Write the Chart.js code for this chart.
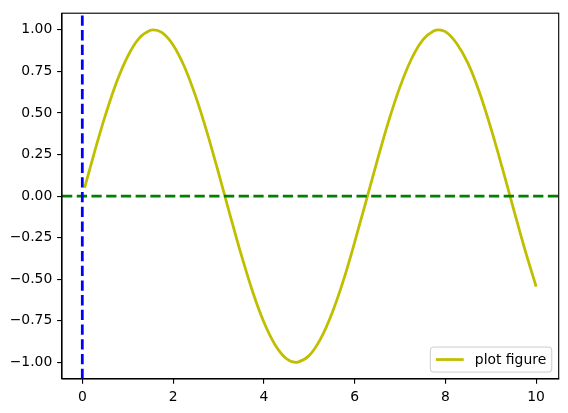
<!DOCTYPE html>
<html>
<head>
<meta charset="utf-8">
<script src="https://cdn.jsdelivr.net/npm/chart.js@4.4.0/dist/chart.umd.min.js"></script>
<style>
html,body{margin:0;padding:0;background:#fff;}
#wrap{width:568px;height:413px;}
</style>
</head>
<body>
<div id="wrap"><canvas id="c" width="568" height="413"></canvas></div>
<script>
// Values
const xValues = [0.05,0.25,0.5,0.75,1.0,1.25,1.5,1.57,1.75,2.0,2.25,2.5,2.75,3.0,3.25,3.5,3.75,4.0,4.25,4.5,4.71,4.75,5.0,5.25,5.5,5.75,6.0,6.25,6.5,6.75,7.0,7.25,7.5,7.75,7.85,8.0,8.25,8.5,8.75,9.0,9.25,9.5,9.75,10.0];
const yValues = [0.050,0.247,0.479,0.682,0.841,0.949,0.997,1.000,0.984,0.909,0.778,0.598,0.382,0.141,-0.108,-0.351,-0.572,-0.757,-0.895,-0.978,-1.000,-0.999,-0.959,-0.859,-0.706,-0.510,-0.279,-0.033,0.215,0.451,0.657,0.823,0.938,0.994,1.000,0.989,0.918,0.798,0.625,0.412,0.174,-0.075,-0.319,-0.544];
const seriesLabel = 'plot figure';
const vLineX = 0;
const hLineY = 0;
const xMin = -0.4475, xMax = 10.4975;
const yMin = -1.1, yMax = 1.1;
const xTicks = [0,2,4,6,8,10];
const xTickLabels = ['0','2','4','6','8','10'];
const yTicks = [-1.0,-0.75,-0.5,-0.25,0.0,0.25,0.5,0.75,1.0];
const yTickLabels = ['\u22121.00','\u22120.75','\u22120.50','\u22120.25','0.00','0.25','0.50','0.75','1.00'];

const FS = 13.9;
const FONT = 'DejaVu Sans';
const PT = 100/72;

const sinData = xValues.map((x,i)=>({x:x,y:yValues[i]}));

const framePlugin = {
  id:'frame',
  afterDatasetsDraw(chart){
    const a = chart.chartArea, ctx = chart.ctx;
    ctx.save();
    ctx.strokeStyle = '#000';
    ctx.lineWidth = 0.8*PT;
    ctx.strokeRect(a.left, a.top, a.right-a.left, a.bottom-a.top);
    // legend (lower right)
    ctx.font = FS+'px "'+FONT+'"';
    const tw = ctx.measureText(seriesLabel).width;
    const pad = 0.4*FS, hl = 2*FS, htp = 0.8*FS, axpad = 0.5*FS;
    const w = pad + hl + htp + tw + pad;
    const h = 25;
    const rx = a.right - axpad - w, ry = a.bottom - axpad - h;
    ctx.beginPath();
    if (ctx.roundRect) ctx.roundRect(rx, ry, w, h, 3); else ctx.rect(rx, ry, w, h);
    ctx.fillStyle = 'rgba(255,255,255,0.8)';
    ctx.fill();
    ctx.strokeStyle = '#cccccc';
    ctx.lineWidth = 1;
    ctx.stroke();
    const cy = ry + h/2;
    ctx.beginPath();
    ctx.moveTo(rx+pad, cy);
    ctx.lineTo(rx+pad+hl, cy);
    ctx.strokeStyle = '#bfbf00';
    ctx.lineWidth = 2*PT;
    ctx.stroke();
    ctx.fillStyle = '#000';
    ctx.textBaseline = 'middle';
    ctx.fillText(seriesLabel, rx+pad+hl+htp, cy+0.5);
    ctx.restore();
  }
};

new Chart(document.getElementById('c'), {
  type:'scatter',
  data:{
    datasets:[
      {label:seriesLabel, data:sinData, showLine:true, borderColor:'#bfbf00', borderWidth:2*PT, pointRadius:0, cubicInterpolationMode:'monotone', order:3},
      {label:'h', data:[{x:xMin,y:hLineY},{x:xMax,y:hLineY}], showLine:true, borderColor:'#008000', borderWidth:2*PT, borderDash:[7.4*PT,3.2*PT], pointRadius:0, order:2},
      {label:'v', data:[{x:vLineX,y:yMin},{x:vLineX,y:yMax}], showLine:true, borderColor:'#0000ff', borderWidth:2*PT, borderDash:[7.4*PT,3.2*PT], pointRadius:0, order:1}
    ]
  },
  options:{
    responsive:false,
    animation:false,
    devicePixelRatio:1,
    layout:{padding:{left:0,top:10.3,right:9.3,bottom:0}},
    plugins:{legend:{display:false},tooltip:{enabled:false}},
    scales:{
      x:{
        type:'linear', min:xMin, max:xMax,
        afterBuildTicks(s){ s.ticks = xTicks.map(v=>({value:v})); },
        afterFit(s){ s.height = 413-379; },
        grid:{drawOnChartArea:false, drawTicks:true, tickLength:3.5*PT, color:'#000', lineWidth:0.8*PT},
        border:{display:true, color:'#000', width:0.8*PT},
        ticks:{padding:3.5*PT, maxRotation:0, autoSkip:false, color:'#000', font:{family:FONT,size:FS},
          callback(v){ const i = xTicks.indexOf(v); return i>=0 ? xTickLabels[i] : ''; }}
      },
      y:{
        type:'linear', min:yMin, max:yMax,
        afterBuildTicks(s){ s.ticks = yTicks.map(v=>({value:v})); },
        afterFit(s){ s.width = 62; },
        grid:{drawOnChartArea:false, drawTicks:true, tickLength:3.5*PT, color:'#000', lineWidth:0.8*PT},
        border:{display:true, color:'#000', width:0.8*PT},
        ticks:{padding:3.5*PT, autoSkip:false, color:'#000', font:{family:FONT,size:FS},
          callback(v){ const i = yTicks.findIndex(t=>Math.abs(t-v)<1e-9); return i>=0 ? yTickLabels[i] : ''; }}
      }
    }
  },
  plugins:[framePlugin]
});
</script>
</body>
</html>
